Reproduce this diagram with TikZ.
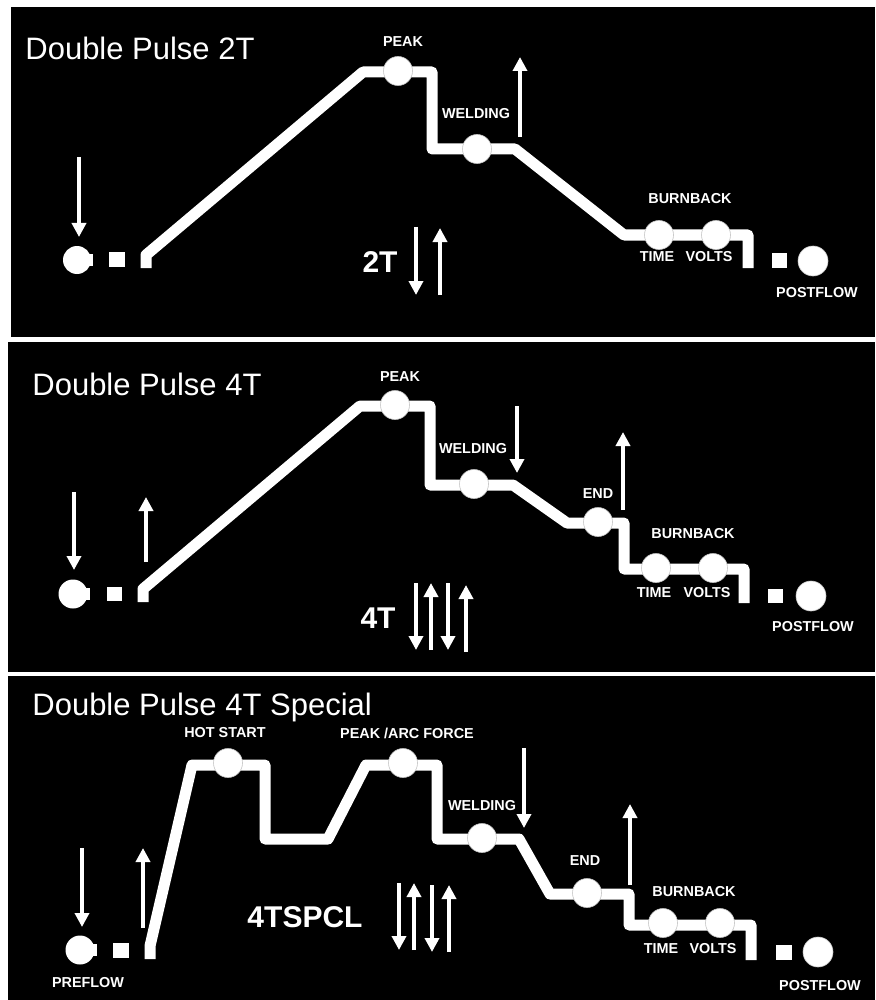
\documentclass[tikz,border=0pt]{standalone}
\usepackage{fontspec}
\setmainfont{Liberation Sans}
\usetikzlibrary{arrows.meta,positioning}

\tikzset{
  panel/.style={fill=black},
  wave/.style={white, line width=5.5pt, line join=round},
  knob/.style={fill=white, draw=gray!45, line width=0.3pt},
  tag/.style={white, font=\bfseries\fontsize{7.2}{8}\selectfont, inner sep=0pt},
  mode/.style={white, font=\bfseries\fontsize{15}{18}\selectfont, inner sep=0pt},
  heading/.style={white, font=\fontsize{15.5}{18}\selectfont, anchor=base west, inner sep=0pt},
  trig/.style={white, line width=1.8pt, -{Triangle[width=7pt,length=7pt]}}
}

\begin{document}
\begin{tikzpicture}[x=0.5pt,y=-0.5pt]
  \useasboundingbox (0,0) rectangle (875,1000);

  % ===== Panel 1 : Double Pulse 2T =====
  \fill[panel] (11,7) rectangle (875,337);
  \node[heading] (titleA) at (25,60) {Double Pulse 2T};

  % gas / wire markers
  \fill[white] (77,260) circle (7pt);
  \fill[white] (83,254) rectangle (93,266);
  \fill[white] (109,252) rectangle (125,267);
  \fill[white] (772,253) rectangle (787,268);
  \fill[knob] (813,261) circle (7.5pt);

  % current curve
  \draw[wave] (146,268) -- (146,255) -- (363,72) -- (432,72) -- (432,149)
    -- (515,149) -- (624,235) -- (748,235) -- (748,268);
  \foreach \px/\py in {398/71, 477/149, 659/235, 716/235}
    \fill[knob] (\px,\py) circle (7.25pt);

  % labels
  \node[tag] (peakA) at (403,42) {PEAK};
  \node[tag] (weldA) at (476,114) {WELDING};
  \node[tag] (burnA) at (690,199) {BURNBACK};
  \node[tag] (timeA) at (657,257) {TIME};
  \node[tag] (voltA) at (709,257) {VOLTS};
  \node[tag] (postA) at (817,293) {POSTFLOW};

  % trigger
  \draw[trig] (79,157) -- (79,237);
  \draw[trig] (520,137) -- (520,57);
  \node[mode] (modeA) at (380,262) {2T};
  \draw[trig] (416,227) -- (416,295);
  \draw[trig] (440,295) -- (440,228);

  % ===== Panel 2 : Double Pulse 4T =====
  \fill[panel] (8,342) rectangle (875,672);
  \node[heading] (titleB) at (32,395) {Double Pulse 4T};

  \fill[white] (73,594) circle (7.25pt);
  \fill[white] (80,588) rectangle (90,600);
  \fill[white] (107,587) rectangle (122,601);
  \fill[white] (768,589) rectangle (783,603);
  \fill[knob] (811,596) circle (7.5pt);

  \draw[wave] (143,602) -- (143,589) -- (360,406) -- (430,406) -- (430,485)
    -- (513,485) -- (567,523) -- (624,523) -- (624,569) -- (744,569) -- (744,603);
  \foreach \px/\py in {395/405, 474/484, 598/522, 656/568, 713/568}
    \fill[knob] (\px,\py) circle (7.25pt);

  \node[tag] (peakB) at (400,377) {PEAK};
  \node[tag] (weldB) at (473,449) {WELDING};
  \node[tag] (endB) at (598,494) {END};
  \node[tag] (burnB) at (693,534) {BURNBACK};
  \node[tag] (timeB) at (654,593) {TIME};
  \node[tag] (voltB) at (707,593) {VOLTS};
  \node[tag] (postB) at (813,627) {POSTFLOW};

  \draw[trig] (74,492) -- (74,570);
  \draw[trig] (146,562) -- (146,497);
  \draw[trig] (517,406) -- (517,473);
  \draw[trig] (623,510) -- (623,432);
  \node[mode] (modeB) at (378,618) {4T};
  \draw[trig] (416,583) -- (416,650);
  \draw[trig] (431,650) -- (431,583);
  \draw[trig] (448,583) -- (448,650);
  \draw[trig] (466,652) -- (466,585);

  % ===== Panel 3 : Double Pulse 4T Special =====
  \fill[panel] (8,676) rectangle (875,1000);
  \node[heading] (titleC) at (32,715) {Double Pulse 4T Special};

  \fill[white] (80,950) circle (7.25pt);
  \fill[white] (87,944) rectangle (97,956);
  \fill[white] (113,943) rectangle (129,958);
  \fill[white] (776,945) rectangle (792,960);
  \fill[knob] (818,952) circle (7.5pt);

  \draw[wave] (150,959) -- (150,946) -- (192,765) -- (265,765) -- (265,839)
    -- (328,839) -- (366,765) -- (437,765) -- (437,839) -- (519,839)
    -- (550,894) -- (629,894) -- (629,925) -- (751,925) -- (751,960);
  \foreach \px/\py in {228/763, 403/763, 482/838, 587/893, 663/923, 720/923}
    \fill[knob] (\px,\py) circle (7.25pt);

  \node[tag] (hotC) at (225,733) {HOT START};
  \node[tag] (peakC) at (407,733) {PEAK /ARC FORCE};
  \node[tag] (weldC) at (482,806) {WELDING};
  \node[tag] (endC) at (585,861) {END};
  \node[tag] (burnC) at (694,892) {BURNBACK};
  \node[tag] (timeC) at (661,949) {TIME};
  \node[tag] (voltC) at (713,949) {VOLTS};
  \node[tag] (postC) at (820,986) {POSTFLOW};
  \node[tag] (preC) at (88,983) {PREFLOW};

  \draw[trig] (82,848) -- (82,927);
  \draw[trig] (143,928) -- (143,848);
  \draw[trig] (524,748) -- (524,828);
  \draw[trig] (630,885) -- (630,804);
  \node[mode] (modeC) at (305,917) {4TSPCL};
  \draw[trig] (399,883) -- (399,950);
  \draw[trig] (414,950) -- (414,883);
  \draw[trig] (432,885) -- (432,952);
  \draw[trig] (449,952) -- (449,885);
\end{tikzpicture}
\end{document}
